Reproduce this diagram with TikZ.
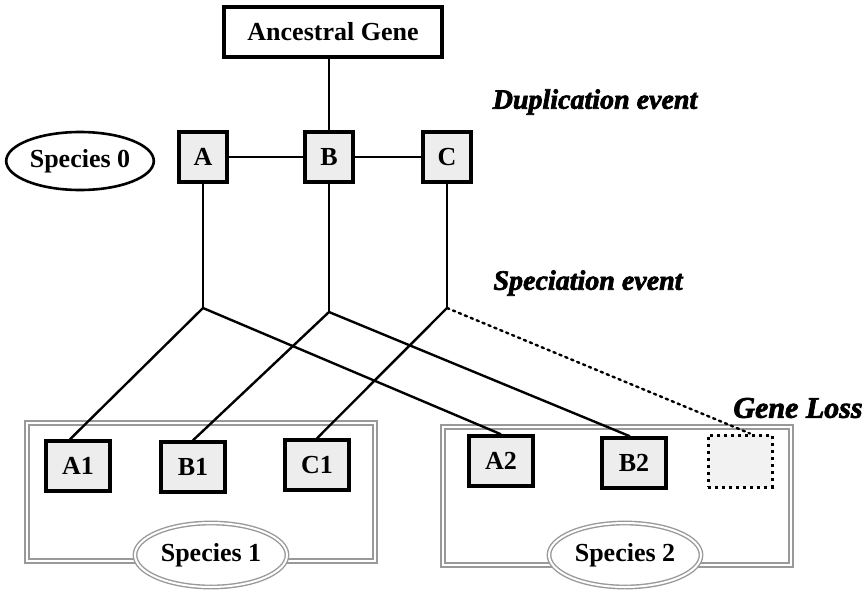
\documentclass[tikz,border=0pt]{standalone}
\usepackage{fontspec}
\setmainfont{Liberation Serif}
\newfontfamily\eventfont[FakeBold=2.5]{Liberation Serif}
\usetikzlibrary{shapes.geometric}

\begin{document}
\begin{tikzpicture}[
        x=0.5pt, y=-0.5pt,
        font=\fontsize{13}{15}\selectfont\bfseries,
        gene/.style={draw, line width=1.7pt, fill=black!7, minimum width=24pt, minimum height=25pt, inner sep=1pt},
        leaf/.style={gene, minimum width=32pt},
        lost/.style={draw, dotted, line width=1.5pt, fill=black!5, minimum width=32pt, minimum height=26pt},
        group/.style={draw=gray!80, double=white, double distance=1.2pt, line width=0.7pt, minimum width=174pt, minimum height=69pt},
        species/.style={ellipse, draw, line width=1.3pt, fill=white, minimum width=70pt, minimum height=29pt, inner sep=1pt},
        tagspecies/.style={species, draw=gray!80, double=white, double distance=1pt, line width=0.7pt, minimum width=76pt, minimum height=32pt},
        event/.style={font=\fontsize{14}{16}\selectfont\eventfont\bfseries\itshape},
        link/.style={line width=1.2pt}
        ]
        \useasboundingbox (0,0) rectangle (867,590);

        % top of the tree
        \node[gene, fill=white, minimum width=109pt] (anc) at (333,32) {Ancestral Gene};
        \node[species] (sp0) at (80,161) {Species 0};
        \node[gene] (a) at (203,157) {A};
        \node[gene] (b) at (329,157) {B};
        \node[gene] (c) at (447,157) {C};
        \node[event] (dup) at (595,102) {Duplication event};
        \node[event] (spec) at (588,283) {Speciation event};
        \node[event, font=\fontsize{15}{17}\selectfont\eventfont\bfseries\itshape] (loss) at (798,408) {Gene Loss};

        \coordinate (ja) at (203,308);
        \coordinate (jb) at (329,312);
        \coordinate (jc) at (447,308);

        % species 1
        \node[group] (grp1) at (201,492) {};
        \node[leaf] (a1) at (78,466) {A1};
        \node[leaf] (b1) at (193,467) {B1};
        \node[leaf] (c1) at (317,465) {C1};
        \node[tagspecies] (sp1) at (211,555) {Species 1};

        % species 2
        \node[group] (grp2) at (617,496) {};
        \node[leaf] (a2) at (501,461) {A2};
        \node[leaf] (b2) at (634,463) {B2};
        \node[lost] (gone) at (740,461) {};
        \node[tagspecies] (sp2) at (625,555) {Species 2};

        \draw[link] (b) -- (b |- anc.south);
        \draw[link] (a) -- (b);
        \draw[link] (b) -- (c);
        \draw[link] (a) -- (ja);
        \draw[link] (b) -- (jb);
        \draw[link] (c) -- (jc);
        \draw[link] (ja) -- ([xshift=-4pt]a1.north);
        \draw[link] (ja) -- (a2.north);
        \draw[link] (jb) -- (b1.north);
        \draw[link] (jb) -- ([xshift=-2pt]b2.north);
        \draw[link] (jc) -- (c1.north);
        \draw[link, dotted, line cap=round] (jc) -- ([xshift=5pt]gone.north);
    \end{tikzpicture}
\end{document}
